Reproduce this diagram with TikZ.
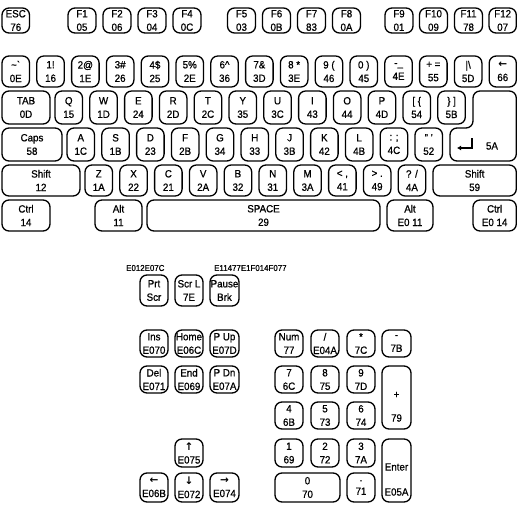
\documentclass[tikz,border=0pt]{standalone}
\usepackage{fontspec}
\setmainfont[FakeBold=0.8,FakeStretch=0.93]{Liberation Sans}
\newfontfamily\arrowfont{DejaVu Sans}
\usetikzlibrary{arrows.meta}
\newcommand\K[6]{\node[key, minimum width={(#3)-(#2)}, minimum height={(#5)-(#4)}] (#1) at ({((#2)+(#3))/2},{((#4)+(#5))/2}) {#6};}
\begin{document}
\begin{tikzpicture}[x=1pt,y=-1pt,
  keyline/.style={draw, line width=1.3pt, rounded corners=7pt},
  key/.style={keyline, inner sep=0pt, align=center, font=\fontsize{10.5}{13.5}\selectfont},
  lbl/.style={inner sep=0pt, font=\fontsize{10.5}{13.5}\selectfont},
  hdr/.style={inner sep=0pt, anchor=west, font=\fontsize{8.5}{9}\selectfont}]
\useasboundingbox (0,0) rectangle (517,504);
% row 1
\K{esc}{2}{29.5}{8}{33}{ESC\\76}
\K{f1}{68}{96}{8}{33}{F1\\05}
\K{f2}{103}{131}{8}{33}{F2\\06}
\K{f3}{138}{166}{8}{33}{F3\\04}
\K{f4}{173}{201}{8}{33}{F4\\0C}
\K{f5}{227.5}{255.5}{8}{33}{F5\\03}
\K{f6}{262.5}{290.5}{8}{33}{F6\\0B}
\K{f7}{297.5}{325.5}{8}{33}{F7\\83}
\K{f8}{332.5}{360.5}{8}{33}{F8\\0A}
\K{f9}{385}{413}{8}{33}{F9\\01}
\K{f10}{419.5}{447.5}{8}{33}{F10\\09}
\K{f11}{454.5}{482.5}{8}{33}{F11\\78}
\K{f12}{489}{516.3}{8}{33}{F12\\07}
% row 2
\K{tilde}{2}{29.5}{56}{87}{\textasciitilde\textasciigrave\\0E}
\K{k1}{36.8}{64.3}{56}{87}{1!\\16}
\K{k2}{71.6}{99.1}{56}{87}{2@\\1E}
\K{k3}{106.4}{133.9}{56}{87}{3\#\\26}
\K{k4}{141.2}{168.7}{56}{87}{4\$\\25}
\K{k5}{176}{203.5}{56}{87}{5\%\\2E}
\K{k6}{210.8}{238.3}{56}{87}{6\textasciicircum\\36}
\K{k7}{245.6}{273.1}{56}{87}{7\&\\3D}
\K{k8}{280.4}{307.9}{56}{87}{8 *\\3E}
\K{k9}{315.2}{342.7}{56}{87}{9 (\\46}
\K{k0}{350}{377.5}{56}{87}{0 )\\45}
\K{kminus}{384.8}{412.3}{56}{87}{-\_\\4E}
\K{kplus}{419.6}{447.1}{56}{87}{+ =\\55}
\K{kbar}{454.4}{481.9}{56}{87}{|\textbackslash\\5D}
\K{kback}{489.2}{516.3}{56}{87}{{\arrowfont\bfseries ←}\\66}
% row 3
\K{tab}{2}{50}{91}{124}{TAB\\0D}
\K{q}{55}{82.5}{91}{124}{Q\\15}
\K{w}{89.8}{117.3}{91}{124}{W\\1D}
\K{e}{124.6}{152.1}{91}{124}{E\\24}
\K{r}{159.4}{186.9}{91}{124}{R\\2D}
\K{t}{194.2}{221.7}{91}{124}{T\\2C}
\K{y}{229}{256.5}{91}{124}{Y\\35}
\K{u}{263.8}{291.3}{91}{124}{U\\3C}
\K{i}{298.6}{326.1}{91}{124}{I\\43}
\K{o}{333.4}{360.9}{91}{124}{O\\44}
\K{p}{368.2}{395.7}{91}{124}{P\\4D}
\K{lbr}{403}{430.5}{91}{124}{[ \{\\54}
\K{rbr}{437.8}{465.3}{91}{124}{\} ]\\5B}
% enter
\draw[keyline] (473,91) -- (516.3,91) -- (516.3,161) -- (450,161) -- (450,128) -- (473,128) -- cycle;
\coordinate (ra) at (472,138);
\coordinate (rb) at (472,148);
\coordinate (rc) at (457,148);
\draw[line width=1.4pt, -{Latex[length=4pt,width=5pt]}] (ra) -- (rb) -- (rc);
\node[lbl] (ret) at (492,146) {5A};
% row 4
\K{caps}{2}{62}{128}{161}{Caps\\58}
\K{a}{67}{94.5}{128}{161}{A\\1C}
\K{s}{101.8}{129.3}{128}{161}{S\\1B}
\K{d}{136.6}{164.1}{128}{161}{D\\23}
\K{f}{171.4}{198.9}{128}{161}{F\\2B}
\K{g}{206.2}{233.7}{128}{161}{G\\34}
\K{h}{241}{268.5}{128}{161}{H\\33}
\K{j}{275.8}{303.3}{128}{161}{J\\3B}
\K{k}{310.6}{338.1}{128}{161}{K\\42}
\K{l}{345.4}{372.9}{128}{161}{L\\4B}
\K{semi}{380.2}{407.7}{128}{161}{: ;\\4C}
\K{quote}{415}{442.5}{128}{161}{" '\\52}
% row 5
\K{lshift}{2}{80}{165}{196}{Shift\\12}
\K{z}{85}{112.5}{165}{196}{Z\\1A}
\K{x}{119.8}{147.3}{165}{196}{X\\22}
\K{c}{154.6}{182.1}{165}{196}{C\\21}
\K{v}{189.4}{216.9}{165}{196}{V\\2A}
\K{b}{224.2}{251.7}{165}{196}{B\\32}
\K{n}{259}{286.5}{165}{196}{N\\31}
\K{m}{293.8}{321.3}{165}{196}{M\\3A}
\K{comma}{328.6}{356.1}{165}{196}{< ,\\41}
\K{period}{363.4}{390.9}{165}{196}{> .\\49}
\K{slash}{398.2}{425.7}{165}{196}{? /\\4A}
\K{rshift}{433}{516.3}{165}{196}{Shift\\59}
% row 6
\K{lctrl}{2}{50}{200}{231}{Ctrl\\14}
\K{lalt}{95}{142}{200}{231}{Alt\\11}
\K{space}{147}{380}{200}{231}{SPACE\\29}
\K{ralt}{387}{433}{200}{231}{Alt\\E0 11}
\K{rctrl}{473}{516.3}{200}{231}{Ctrl\\E0 14}
% headers
\node[hdr] (h1) at (126,268) {E012E07C};
\node[hdr] (h2) at (214,268) {E11477E1F014F077};
% system keys
\K{prt}{140}{168}{275}{306}{Prt\\Scr}
\K{scrl}{175}{203}{275}{306}{Scr L\\7E}
\K{pause}{210}{239}{275}{306}{Pause\\Brk}
% nav
\K{ins}{140}{168}{330}{357}{Ins\\E070}
\K{home}{175}{203}{330}{357}{Home\\E06C}
\K{pup}{210}{239}{330}{357}{P Up\\E07D}
\K{del}{140}{168}{366}{393}{Del\\E071}
\K{end}{175}{203}{366}{393}{End\\E069}
\K{pdn}{210}{239}{366}{393}{P Dn\\E07A}
\K{up}{175}{203}{439}{467}{{\arrowfont\bfseries ↑}\\E075}
\K{left}{140}{168}{473}{502}{{\arrowfont\bfseries ←}\\E06B}
\K{down}{175}{203}{473}{502}{{\arrowfont\bfseries ↓}\\E072}
\K{right}{210}{239}{473}{502}{{\arrowfont\bfseries →}\\E074}
% numpad
\K{num}{275}{303}{330}{357}{Num\\77}
\K{ndiv}{311}{339}{330}{357}{/\\E04A}
\K{nmul}{347}{375}{330}{357}{*\\7C}
\K{nsub}{382}{411}{330}{357}{-\\7B}
\K{n7}{275}{303}{366}{393}{7\\6C}
\K{n8}{311}{339}{366}{393}{8\\75}
\K{n9}{347}{375}{366}{393}{9\\7D}
\K{n4}{275}{303}{402}{429}{4\\6B}
\K{n5}{311}{339}{402}{429}{5\\73}
\K{n6}{347}{375}{402}{429}{6\\74}
\K{n1}{275}{303}{439}{467}{1\\69}
\K{n2}{311}{339}{439}{467}{2\\72}
\K{n3}{347}{375}{439}{467}{3\\7A}
\K{n0}{275}{340}{473}{502}{0\\70}
\K{ndot}{347}{375}{473}{502}{.\\71}
\K{nadd}{382}{411}{366}{429}{}
\node[lbl] (naddt) at (396.5,395) {+};
\node[lbl] (naddc) at (396.5,418) {79};
\K{nent}{382}{411}{439}{502}{}
\node[lbl] (nentt) at (396.5,467) {Enter};
\node[lbl] (nentc) at (396.5,492) {E05A};
\end{tikzpicture}
\end{document}
